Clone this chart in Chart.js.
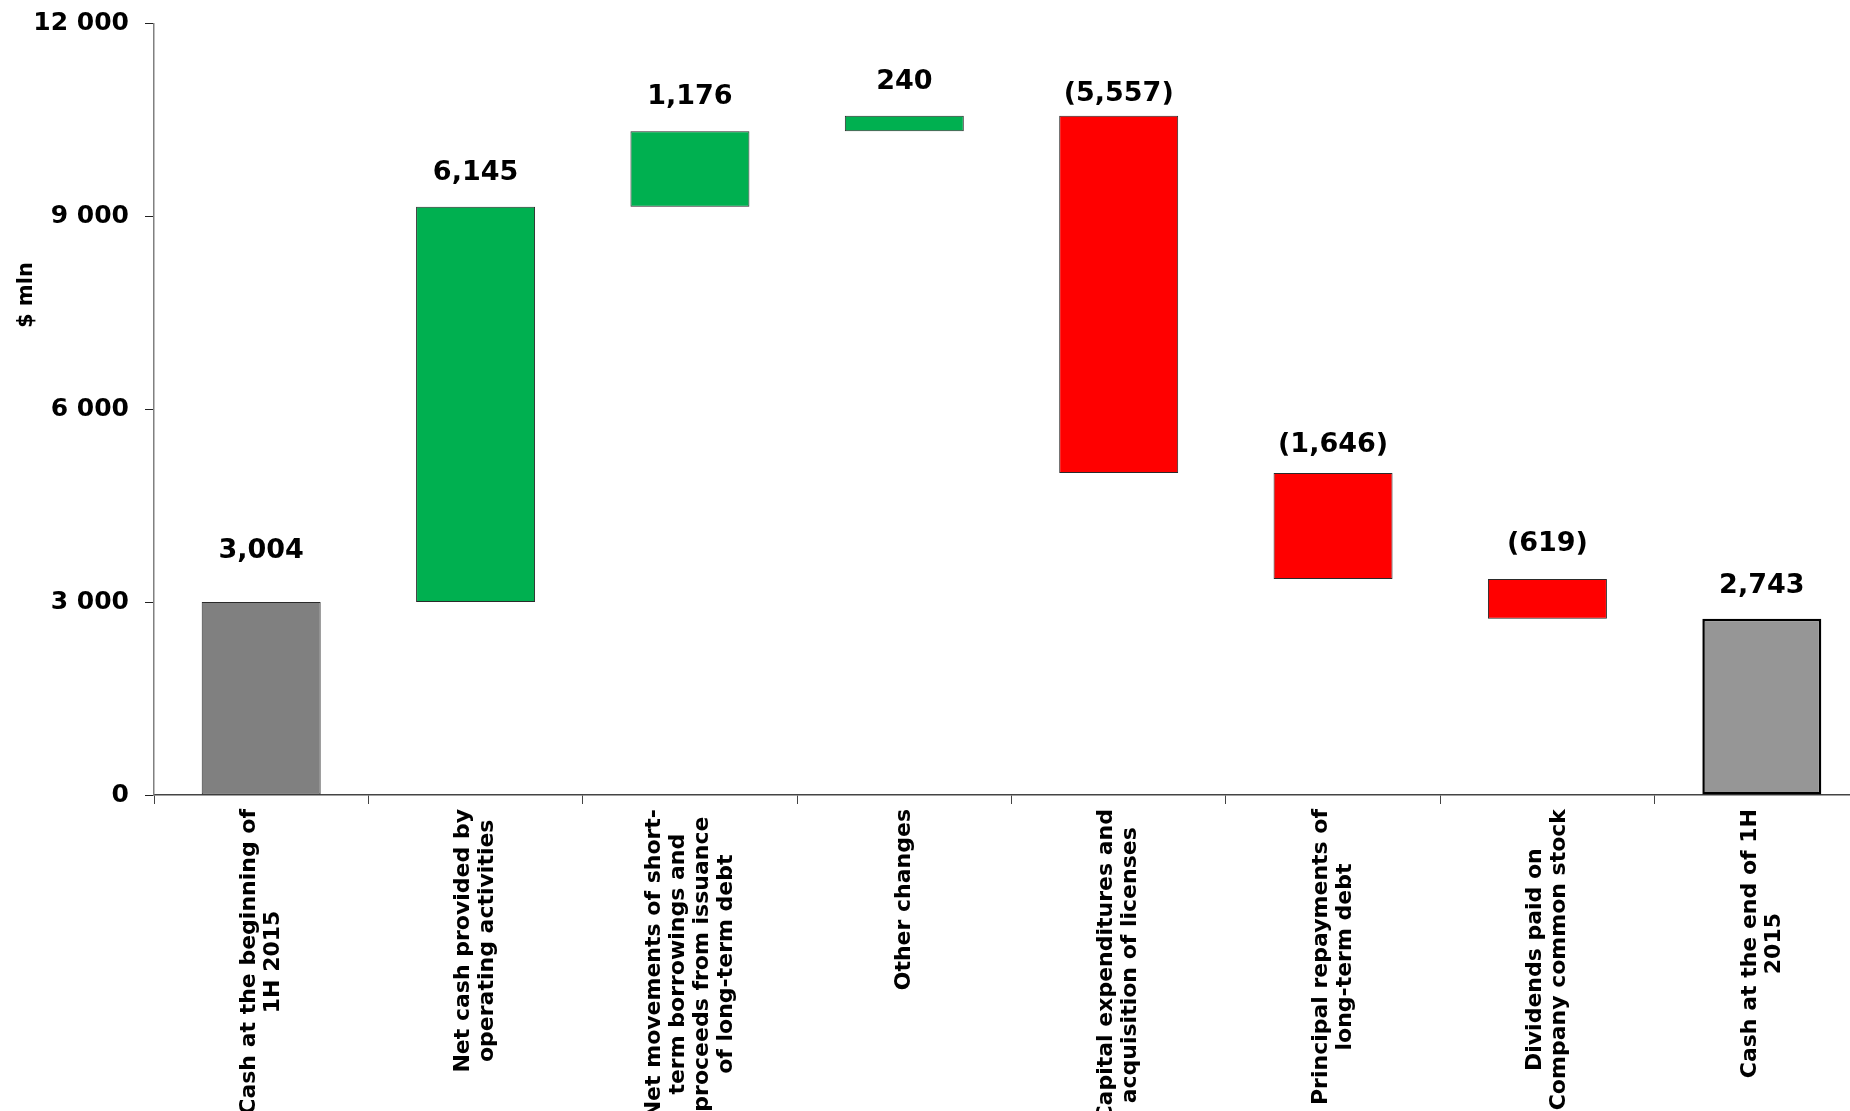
<!DOCTYPE html>
<html>
<head>
<meta charset="utf-8">
<title>Cash flow 1H 2015, $ mln</title>
<script src="https://cdn.jsdelivr.net/npm/chart.js@4/dist/chart.umd.min.js"></script>
<style>
  html, body { margin: 0; padding: 0; background: #ffffff; overflow: hidden; }
  #wrap { width: 1869px; height: 1111px; }
</style>
</head>
<body>
<div id="wrap"><canvas id="cf" width="1869" height="1111"></canvas></div>
<script>
// Category captions, one array of lines per bar
const categories = [
  ['Cash at the beginning of', '1H 2015'],
  ['Net cash provided by', 'operating activities'],
  ['Net movements of short-', 'term borrowings and', 'proceeds from issuance', 'of long-term debt'],
  ['Other changes'],
  ['Capital expenditures and', 'acquisition of licenses'],
  ['Principal repayments of', 'long-term debt'],
  ['Dividends paid on', 'Company common stock'],
  ['Cash at the end of 1H', '2015']
];

// Cash balances and movements, $ mln
const values = [3004, 6145, 1176, 240, -5557, -1646, -619, 2743];
const kinds  = ['total', 'delta', 'delta', 'delta', 'delta', 'delta', 'delta', 'total'];

// Value axis ticks
const yTicks = [0, 3000, 6000, 9000, 12000];

// Floating ranges for the waterfall
const ranges = [];
let running = 0;
values.forEach((v, i) => {
  if (kinds[i] === 'total') {
    ranges.push([0, v]);
    running = v;
  } else {
    ranges.push([running, running + v]);
    running += v;
  }
});

const FONT = 'DejaVu Sans';
const fill = values.map((v, i) =>
  i === 0 ? '#808080' : i === values.length - 1 ? '#969696' : (v >= 0 ? '#00B050' : '#FF0000'));
const edge = values.map((v, i) => i === values.length - 1 ? '#000000' : '#2a2a2a');
const edgeW = values.map((v, i) => i === values.length - 1 ? 2.5 : 1);

const fmt = v => {
  const s = Math.abs(v).toLocaleString('en-US');
  return v < 0 ? '(' + s + ')' : s;
};

// Value captions above each bar
const valueLabels = {
  id: 'valueLabels',
  afterDatasetsDraw(chart, args, opts) {
    const { ctx } = chart;
    const meta = chart.getDatasetMeta(0);
    const ys = chart.scales.y;
    ctx.save();
    ctx.font = 'bold 27px "' + FONT + '"';
    ctx.fillStyle = '#000';
    ctx.textAlign = 'center';
    ctx.textBaseline = 'middle';
    meta.data.forEach((bar, i) => {
      const top = ys.getPixelForValue(Math.max(ranges[i][0], ranges[i][1]));
      ctx.fillText(fmt(values[i]), bar.x, top - opts.lift[i]);
    });
    ctx.restore();
  }
};

// Rotated, centred multi-line category captions under the axis
const categoryCaptions = {
  id: 'categoryCaptions',
  afterDraw(chart, args, opts) {
    const { ctx } = chart;
    const xs = chart.scales.x;
    const top = chart.chartArea.bottom + opts.gap;
    ctx.save();
    ctx.font = 'bold 22px "' + FONT + '"';
    ctx.fillStyle = '#000';
    ctx.textAlign = 'center';
    ctx.textBaseline = 'middle';
    categories.forEach((lines, i) => {
      const x = xs.getPixelForValue(i);
      const maxW = Math.max(...lines.map(l => ctx.measureText(l).width));
      ctx.save();
      ctx.translate(x, top);
      ctx.rotate(-Math.PI / 2);
      lines.forEach((line, j) => {
        const off = (j - (lines.length - 1) / 2) * opts.lineHeight;
        ctx.fillText(line, -maxW / 2, off);
      });
      ctx.restore();
    });
    ctx.restore();
  }
};

// Unit caption beside the value axis
const unitCaption = {
  id: 'unitCaption',
  afterDraw(chart) {
    const { ctx, chartArea } = chart;
    ctx.save();
    ctx.font = 'bold 21px "' + FONT + '"';
    ctx.fillStyle = '#000';
    ctx.textAlign = 'center';
    ctx.textBaseline = 'middle';
    ctx.translate(27, chartArea.top + (chartArea.bottom - chartArea.top) * 0.352);
    ctx.rotate(-Math.PI / 2);
    ctx.fillText('$ mln', 0, 0);
    ctx.restore();
  }
};

new Chart(document.getElementById('cf'), {
  type: 'bar',
  data: {
    labels: categories.map(l => l.join(' ')),
    datasets: [{
      data: ranges,
      backgroundColor: fill,
      borderColor: edge,
      borderWidth: edgeW,
      borderSkipped: false,
      categoryPercentage: 1,
      barPercentage: 0.555
    }]
  },
  options: {
    responsive: false,
    animation: false,
    devicePixelRatio: 1,
    layout: { padding: { top: 23.6, left: 0, right: 0, bottom: 0 } },
    plugins: {
      legend: { display: false },
      tooltip: { enabled: false },
      valueLabels: { lift: [51, 34, 34, 34, 22, 28, 35, 33] },
      categoryCaptions: { gap: 14, lineHeight: 24 }
    },
    scales: {
      x: {
        ticks: { display: false },
        grid: {
          display: true,
          drawOnChartArea: false,
          drawTicks: true,
          tickLength: 9,
          offset: true,
          color: '#444444',
          lineWidth: 1
        },
        border: { display: true, color: '#444444', width: 1.5 },
        afterFit(scale) { scale.height = 316; }
      },
      y: {
        min: 0,
        max: 12000,
        afterBuildTicks(scale) { scale.ticks = yTicks.map(v => ({ value: v })); },
        ticks: {
          color: '#000',
          padding: 16,
          font: { family: FONT, size: 25, weight: 'bold' },
          callback: v => String(v).replace(/\B(?=(\d{3})+(?!\d))/g, ' ')
        },
        grid: {
          display: true,
          drawOnChartArea: false,
          drawTicks: true,
          tickLength: 9,
          tickColor: '#222222'
        },
        border: { display: true, color: '#808080', width: 1.5 },
        afterFit(scale) {
          scale.width = 154;
          scale.paddingTop = 0;
          scale.paddingBottom = 0;
        }
      }
    }
  },
  plugins: [valueLabels, categoryCaptions, unitCaption]
});
</script>
</body>
</html>
